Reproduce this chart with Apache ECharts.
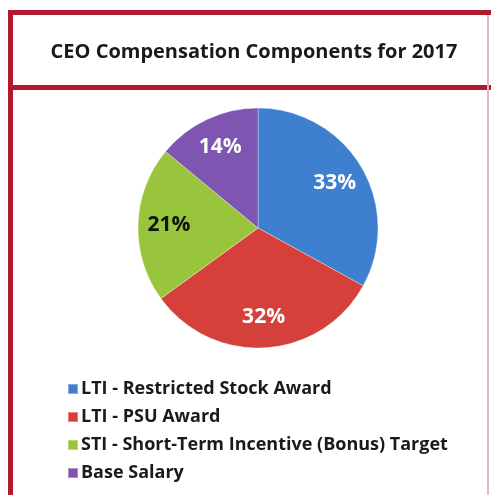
<!DOCTYPE html>
<html>
<head>
<meta charset="utf-8">
<script src="https://cdn.jsdelivr.net/npm/echarts@6/dist/echarts.min.js"></script>
<style>
html,body{margin:0;padding:0;background:#fff;}
#c{width:491px;height:495px;}
</style>
</head>
<body>
<div id="c"></div>
<script>
var titleText = 'CEO Compensation Components for 2017';
var categories = ['LTI - Restricted Stock Award', 'LTI - PSU Award', 'STI - Short-Term Incentive (Bonus) Target', 'Base Salary'];
var values = [33, 32, 21, 14];
var colors = ['#3f7fd0', '#d6403b', '#98c53c', '#7e55b0'];
var labelColors = ['#ffffff', '#ffffff', '#111111', '#ffffff'];

var pieData = categories.map(function (n, i) {
  return { name: n, value: values[i], itemStyle: { color: colors[i] } };
});
var labelData = categories.map(function (n, i) {
  return { name: n, value: values[i], label: { color: labelColors[i] } };
});

var chart = echarts.init(document.getElementById('c'), null, {renderer: 'canvas'});
var borderRed = '#b2192f';
chart.setOption({
  animation: false,
  title: {
    text: titleText,
    left: 249, top: 37, textAlign: 'center',
    textStyle: { fontFamily: 'Open Sans', fontWeight: 'bold', fontSize: 20, color: '#1a1a1a' }
  },
  legend: {
    orient: 'vertical',
    left: 62, top: 375,
    icon: 'rect', itemWidth: 10, itemHeight: 10, itemGap: 10,
    selectedMode: false,
    data: categories,
    textStyle: { fontFamily: 'Open Sans', fontWeight: 'bold', fontSize: 18, color: '#1a1a1a', padding: [0,0,0,-2] }
  },
  graphic: [
    { type: 'rect', shape: {x: 8, y: 10, width: 483, height: 5}, style: {fill: borderRed} },
    { type: 'rect', shape: {x: 8, y: 10, width: 5, height: 485}, style: {fill: borderRed} },
    { type: 'rect', shape: {x: 8, y: 85, width: 483, height: 5}, style: {fill: borderRed} },
    { type: 'rect', shape: {x: 487, y: 15, width: 2, height: 480}, style: {fill: '#eeb3bb'} }
  ],
  series: [
    {
      type: 'pie',
      center: [258, 228], radius: [0, 120],
      startAngle: 90, clockwise: true,
      silent: true,
      label: { show: false },
      labelLine: { show: false },
      itemStyle: { borderColor: 'rgba(255,255,255,0.35)', borderWidth: 1 },
      data: pieData
    },
    {
      type: 'pie',
      center: [258, 228], radius: [52, 120],
      startAngle: 90, clockwise: true,
      silent: true,
      legendHoverLink: false,
      itemStyle: { color: 'rgba(0,0,0,0)' },
      label: {
        show: true, position: 'inside',
        formatter: '{c}%',
        fontFamily: 'Open Sans', fontWeight: 'bold', fontSize: 21
      },
      labelLine: { show: false },
      data: labelData
    }
  ]
});
</script>
</body>
</html>
